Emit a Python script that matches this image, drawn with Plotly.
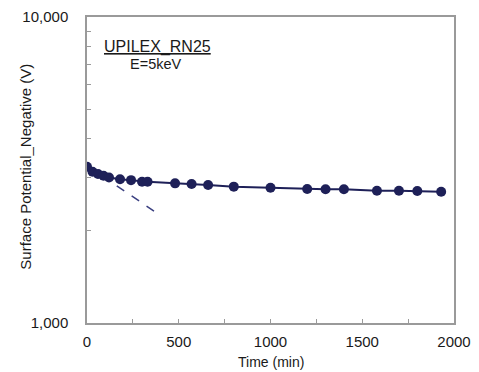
import plotly.graph_objects as go

time_min = [0, 30, 60, 90, 120, 180, 240, 300, 330, 480, 570, 660, 800,
            1000, 1200, 1300, 1400, 1580, 1700, 1800, 1930]
potential_v = [3240, 3120, 3070, 3030, 2990, 2950, 2930, 2895, 2895, 2860,
               2846, 2825, 2790, 2768, 2741, 2735, 2735, 2706, 2706, 2700, 2686]

fit_time = [0, 370]
fit_v = [3270, 2310]

y_tickvals = [1000, 10000]
y_ticktext = ["1,000", "10,000"]
y_minor = [2000, 3000, 4000, 5000, 6000, 7000, 8000, 9000]

x_title = "Time (min)"
y_title = "Surface Potential_Negative (V)"

navy = "#1e2058"
frame = "#9a9a9a"
font_family = "Liberation Sans, Arial, sans-serif"

fig = go.Figure()
fig.add_trace(go.Scatter(
    x=fit_time, y=fit_v, mode="lines",
    line=dict(color="#3a3f80", width=1.5, dash="dash"),
    showlegend=False, hoverinfo="skip"))
fig.add_trace(go.Scatter(
    x=time_min, y=potential_v, mode="lines+markers",
    line=dict(color=navy, width=2),
    marker=dict(color=navy, size=10),
    showlegend=False))

fig.update_layout(
    width=479, height=372,
    margin=dict(l=87, r=25, t=17, b=49),
    paper_bgcolor="white", plot_bgcolor="white",
    font=dict(family=font_family, size=15, color="#1a1a1a"),
    xaxis=dict(
        range=[0, 2000], tickvals=[0, 500, 1000, 1500, 2000],
        ticks="inside", ticklen=4, tickcolor=frame,
        minor=dict(tickvals=[250, 750, 1250, 1750], ticks="inside",
                   ticklen=4, tickcolor=frame),
        showline=True, linecolor=frame, linewidth=1.5, mirror=True,
        showgrid=False, zeroline=False, automargin=False,
        tickfont=dict(size=15), ticklabelstandoff=4,
    ),
    yaxis=dict(
        type="log", range=[3, 4],
        tickvals=y_tickvals, ticktext=y_ticktext,
        ticks="", tickcolor=frame,
        minor=dict(tickvals=y_minor, ticks="inside", ticklen=4,
                   tickcolor=frame, showgrid=False),
        showline=True, linecolor=frame, linewidth=1.5, mirror=True,
        showgrid=False, zeroline=False, automargin=False,
        tickfont=dict(size=15), ticklabelstandoff=14,
    ),
    annotations=[
        dict(text=x_title, xref="paper", yref="paper",
             x=0.5, y=-0.1275, showarrow=False, font=dict(size=14),
             xanchor="center", yanchor="middle"),
        dict(text=y_title, xref="paper", yref="paper",
             x=-0.166, y=0.511, showarrow=False, font=dict(size=15),
             textangle=-90, xanchor="center", yanchor="middle"),
        dict(text="<u>UPILEX_RN25</u>", xref="paper", yref="paper",
             x=0.193, y=0.902, showarrow=False, font=dict(size=16),
             xanchor="center", yanchor="middle"),
        dict(text="E=5keV", xref="paper", yref="paper",
             x=0.187, y=0.848, showarrow=False, font=dict(size=14.5),
             xanchor="center", yanchor="middle"),
    ],
)

fig.write_html("out.html")
